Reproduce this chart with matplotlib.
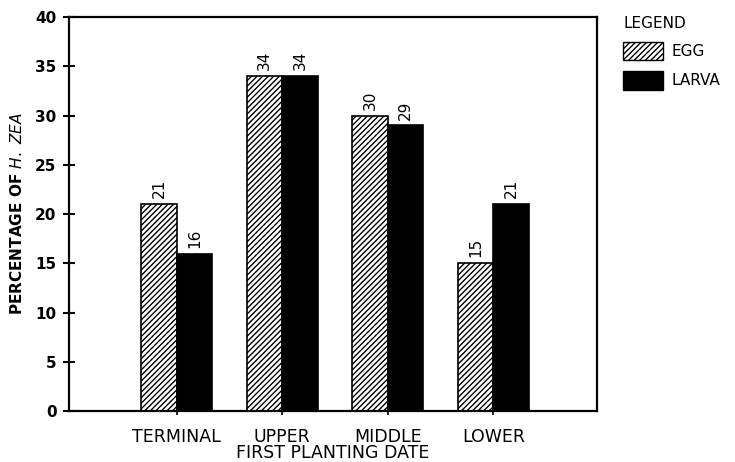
import numpy as np
import matplotlib
matplotlib.use('Agg')
import matplotlib.pyplot as plt
from matplotlib.patches import Patch

categories = ['TERMINAL', 'UPPER', 'MIDDLE', 'LOWER']
egg = [21, 34, 30, 15]
larva = [16, 34, 29, 21]
y_ticks = [0, 5, 10, 15, 20, 25, 30, 35, 40]

plt.rcParams['hatch.linewidth'] = 1.0

fig = plt.figure(figsize=(7.35, 4.62), dpi=100)
ax = fig.add_axes([0.094, 0.110, 0.718, 0.853])

x = np.arange(len(categories))
w = 0.335
b1 = ax.bar(x - w / 2, egg, w, color='white', edgecolor='black', hatch='//////', linewidth=1.2)
b2 = ax.bar(x + w / 2, larva, w, color='black', edgecolor='black', linewidth=1.2)

for bars, vals in ((b1, egg), (b2, larva)):
    for r, v in zip(bars, vals):
        ax.text(r.get_x() + r.get_width() / 2, v + 0.6, str(v), rotation=90,
                ha='center', va='bottom', fontsize=11)

ax.set_xlim(-1.02, 3.98)
ax.set_ylim(0, 40)
ax.set_yticks(y_ticks)
ax.set_yticklabels([str(t) for t in y_ticks], fontweight='bold', fontsize=11)
ax.set_xticks(x)
ax.set_xticklabels(categories, fontsize=12.5)
ax.tick_params(axis='y', direction='inout', length=8, width=1.5, pad=5)
ax.tick_params(axis='x', direction='out', length=3, width=1.2, pad=9)
for s in ax.spines.values():
    s.set_linewidth(1.6)

ax.set_xlabel('FIRST PLANTING DATE', fontsize=12.5, labelpad=-1)
ax.set_ylabel('PERCENTAGE OF $\\it{H.\\ ZEA}$', fontsize=11, labelpad=7,
              fontweight='bold')

handles = [Patch(facecolor='white', edgecolor='black', hatch='//////', label='EGG'),
           Patch(facecolor='black', edgecolor='black', label='LARVA')]
leg = fig.legend(handles=handles, title='LEGEND', loc='upper left',
                 bbox_to_anchor=(0.829, 0.995), frameon=False, fontsize=11,
                 title_fontsize=11, handlelength=2.6, handleheight=1.5,
                 handletextpad=0.6, alignment='left', labelspacing=0.7)

fig.savefig('out.png', dpi=100)
